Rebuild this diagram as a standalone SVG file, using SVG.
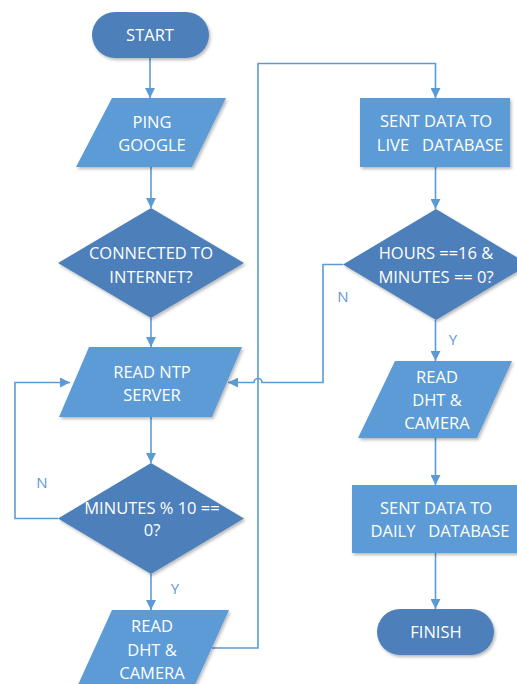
<svg xmlns="http://www.w3.org/2000/svg" width="517" height="684" viewBox="0 0 517 684">
<style>
.dark{fill:#4E80BA}
.light{fill:#5B9BD5}
.sh{filter:url(#shadow)}
.t{font-family:"Open Sans","Liberation Sans",sans-serif;font-size:16.5px;fill:#FFFFFF;text-anchor:middle;white-space:pre}
.lbl{font-family:"Open Sans","Liberation Sans",sans-serif;font-size:15px;fill:#5B9BD5;text-anchor:middle}
.c{fill:none;stroke:#5B9BD5;stroke-width:1.6}
</style>
<defs>
<filter id="shadow" x="-10%" y="-10%" width="125%" height="130%">
<feDropShadow dx="1.5" dy="2" stdDeviation="1.5" flood-color="#000" flood-opacity="0.28"/>
</filter>
<marker id="arr" markerUnits="userSpaceOnUse" markerWidth="11" markerHeight="10" refX="10" refY="5" orient="auto">
<path d="M0,0 L10,5 L0,10 z" fill="#5B9BD5"/>
</marker>
</defs>
<rect width="517" height="684" fill="#FFFFFF"/>
<g id="connectors">
<path class="c" d="M150,58 V98" marker-end="url(#arr)"/>
<path class="c" d="M151,167 V208" marker-end="url(#arr)"/>
<path class="c" d="M151,318 V347" marker-end="url(#arr)"/>
<path class="c" d="M151,417 V463" marker-end="url(#arr)"/>
<path class="c" d="M151,574 V610" marker-end="url(#arr)"/>
<path class="c" d="M58,518.5 H15 V382.5 H70" marker-end="url(#arr)"/>
<path class="c" d="M212,648 H258 V63.5 H435.5 V98" marker-end="url(#arr)"/>
<path class="c" d="M435.5,167 V209" marker-end="url(#arr)"/>
<path class="c" d="M343,264.5 H323 V382.5 H262 A4,4 0 0 0 254,382.5 H228" marker-end="url(#arr)"/>
<path class="c" d="M435.5,320 V361" marker-end="url(#arr)"/>
<path class="c" d="M435.5,438 V485" marker-end="url(#arr)"/>
<path class="c" d="M435.5,553 V609" marker-end="url(#arr)"/>
<text class="lbl" x="42" y="488">N</text>
<text class="lbl" x="175" y="594">Y</text>
<text class="lbl" x="343" y="302">N</text>
<text class="lbl" x="453" y="345">Y</text>
</g>
<g id="start">
<rect class="dark sh" x="92" y="12" width="117" height="46" rx="23"/>
<text class="t" x="150" y="41">START</text>
</g>
<g id="ping">
<polygon class="light sh" points="112,98 226,98 192,167 76,167"/>
<text class="t" x="152" y="128">PING</text>
<text class="t" x="152" y="151">GOOGLE</text>
</g>
<g id="connected">
<polygon class="dark sh" points="151,208 244,263 151,318 58,263"/>
<text class="t" x="151" y="259">CONNECTED TO</text>
<text class="t" x="151" y="283">INTERNET?</text>
</g>
<g id="readntp">
<polygon class="light sh" points="89,347 242,347 212,417 59,417"/>
<text class="t" x="152" y="378">READ NTP</text>
<text class="t" x="152" y="401">SERVER</text>
</g>
<g id="minutes">
<polygon class="dark sh" points="151,463 244,518.5 151,574 58,518.5"/>
<text class="t" x="152" y="514">MINUTES % 10 ==</text>
<text class="t" x="152" y="536">0?</text>
</g>
<g id="readdht1">
<polygon class="light sh" points="112,610 229,610 194,687 77,687"/>
<text class="t" x="152" y="632">READ</text>
<text class="t" x="152" y="656">DHT &amp;</text>
<text class="t" x="152" y="679">CAMERA</text>
</g>
<g id="live">
<rect class="light sh" x="360" y="98" width="150" height="69"/>
<text class="t" x="436" y="127">SENT DATA TO</text>
<text class="t" x="440" y="151">LIVE   DATABASE</text>
</g>
<g id="hours">
<polygon class="dark sh" points="436,209 529,264.5 436,320 343,264.5"/>
<text class="t" x="436" y="259">HOURS ==16 &amp;</text>
<text class="t" x="436" y="283">MINUTES == 0?</text>
</g>
<g id="readdht2">
<polygon class="light sh" points="395,361 512,361 477,438 358,438"/>
<text class="t" x="437" y="383">READ</text>
<text class="t" x="437" y="406">DHT &amp;</text>
<text class="t" x="437" y="429">CAMERA</text>
</g>
<g id="daily">
<rect class="light sh" x="352" y="485" width="166" height="68"/>
<text class="t" x="436" y="514">SENT DATA TO</text>
<text class="t" x="440" y="537">DAILY   DATABASE</text>
</g>
<g id="finish">
<rect class="dark sh" x="377" y="609" width="117" height="46" rx="23"/>
<text class="t" x="436" y="638">FINISH</text>
</g>
</svg>
